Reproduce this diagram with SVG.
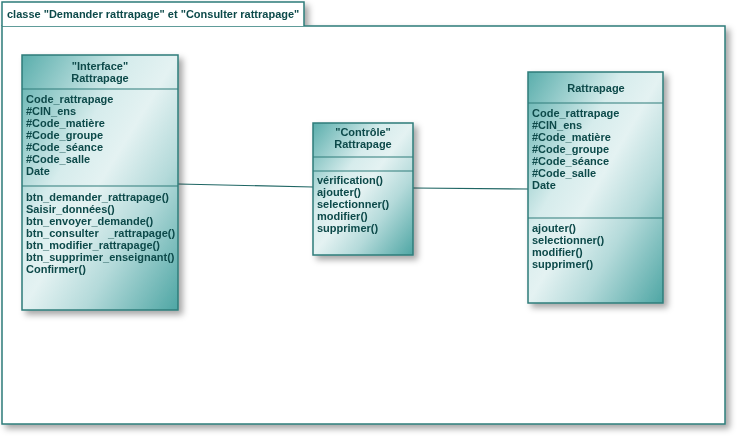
<svg xmlns="http://www.w3.org/2000/svg" width="740" height="440" viewBox="0 0 740 440">
<defs>
<linearGradient id="g" x1="0" y1="0" x2="1" y2="1">
<stop offset="0" stop-color="#5aaeac"/>
<stop offset="0.35" stop-color="#d6ecec"/>
<stop offset="0.5" stop-color="#e4f2f2"/>
<stop offset="0.7" stop-color="#b4dada"/>
<stop offset="1" stop-color="#4ea6a4"/>
</linearGradient>
<filter id="sh" x="-10%" y="-10%" width="130%" height="130%">
<feDropShadow dx="4" dy="4" stdDeviation="3" flood-color="#000" flood-opacity="0.35"/>
</filter>
</defs>
<style>
.box{fill:url(#g);stroke:#2e7c7a;stroke-width:1.5}
.sep{stroke:#2e7c7a;stroke-width:1.2}
.frame{fill:#fff;stroke:#2e7c7a;stroke-width:1.5}
text{font-family:"Liberation Sans",Arial,sans-serif;font-size:11px;font-weight:bold;fill:#0d4a4a}
.c{text-anchor:middle}
.conn{stroke:#1f6664;stroke-width:1.2;fill:none}
</style>
<g id="frame" filter="url(#sh)">
<rect class="frame" x="2" y="26" width="723" height="398"/>
<path class="frame" d="M2,26 L2,2 L304,2 L304,26"/>
<text x="7" y="18">classe "Demander rattrapage" et "Consulter rattrapage"</text>
</g>
<g id="connectors">
<line class="conn" x1="178" y1="184" x2="313" y2="187"/>
<line class="conn" x1="413" y1="188" x2="528" y2="189"/>
</g>
<g id="interface" filter="url(#sh)">
<rect class="box" x="22" y="55" width="156" height="255"/>
<line class="sep" x1="22" y1="89" x2="178" y2="89"/>
<line class="sep" x1="22" y1="186" x2="178" y2="186"/>
<text class="c" x="100" y="70">"Interface"</text>
<text class="c" x="100" y="82">Rattrapage</text>
<text x="26" y="103">Code_rattrapage</text>
<text x="26" y="115">#CIN_ens</text>
<text x="26" y="127">#Code_matière</text>
<text x="26" y="139">#Code_groupe</text>
<text x="26" y="151">#Code_séance</text>
<text x="26" y="163">#Code_salle</text>
<text x="26" y="175">Date</text>
<text x="26" y="201">btn_demander_rattrapage()</text>
<text x="26" y="213">Saisir_données()</text>
<text x="26" y="225">btn_envoyer_demande()</text>
<text x="26" y="237" xml:space="preserve">btn_consulter   _rattrapage()</text>
<text x="26" y="249">btn_modifier_rattrapage()</text>
<text x="26" y="261">btn_supprimer_enseignant()</text>
<text x="26" y="273">Confirmer()</text>
</g>
<g id="controle" filter="url(#sh)">
<rect class="box" x="313" y="123" width="100" height="132"/>
<line class="sep" x1="313" y1="157" x2="413" y2="157"/>
<line class="sep" x1="313" y1="171" x2="413" y2="171"/>
<text class="c" x="363" y="136">"Contrôle"</text>
<text class="c" x="363" y="148">Rattrapage</text>
<text x="317" y="184">vérification()</text>
<text x="317" y="196">ajouter()</text>
<text x="317" y="208">selectionner()</text>
<text x="317" y="220">modifier()</text>
<text x="317" y="232">supprimer()</text>
</g>
<g id="rattrapage" filter="url(#sh)">
<rect class="box" x="528" y="72" width="135" height="231"/>
<line class="sep" x1="528" y1="103" x2="663" y2="103"/>
<line class="sep" x1="528" y1="218" x2="663" y2="218"/>
<text class="c" x="596" y="92">Rattrapage</text>
<text x="532" y="117">Code_rattrapage</text>
<text x="532" y="129">#CIN_ens</text>
<text x="532" y="141">#Code_matière</text>
<text x="532" y="153">#Code_groupe</text>
<text x="532" y="165">#Code_séance</text>
<text x="532" y="177">#Code_salle</text>
<text x="532" y="189">Date</text>
<text x="532" y="232">ajouter()</text>
<text x="532" y="244">selectionner()</text>
<text x="532" y="256">modifier()</text>
<text x="532" y="268">supprimer()</text>
</g>
</svg>
